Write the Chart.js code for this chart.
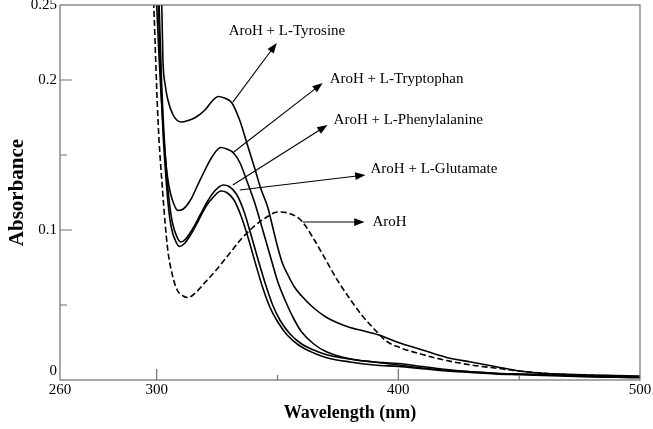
<!DOCTYPE html>
<html>
<head>
<meta charset="utf-8">
<script src="https://cdn.jsdelivr.net/npm/chart.js@4/dist/chart.umd.min.js"></script>
<style>
  html, body { margin: 0; padding: 0; background: #fff; }
  #wrap { width: 653px; height: 429px; }
</style>
</head>
<body>
<div id="wrap"><canvas id="absChart"></canvas></div>
<script>
// tick values and labels
var xTickValues = [260, 300, 350, 400, 450, 500]
var xTickLabels = ['260', '300', '', '400', '', '500']
var yTickValues = [0, 0.05, 0.1, 0.15, 0.2, 0.25]
var yTickLabels = [['0', ''], '', '0.1', '', '0.2', '0.25']

// AroH + L-Tyrosine
var tyrWl = [301.5, 302.1, 302.6, 303.5, 304.6, 306.7, 308.5, 310.4, 313, 316, 320, 323, 325.5, 328, 331, 334.4, 337.5, 340.6, 343, 346, 348, 350, 352, 354, 357, 360, 365, 370, 375, 380, 385, 392, 400, 410, 420, 430, 440, 450, 460, 470, 480, 490, 500]
var tyrAbs = [0.27, 0.25, 0.213, 0.197, 0.187, 0.177, 0.173, 0.172, 0.173, 0.175, 0.18, 0.186, 0.189, 0.188, 0.185, 0.173, 0.157, 0.141, 0.128, 0.115, 0.102, 0.089, 0.078, 0.071, 0.062, 0.056, 0.048, 0.042, 0.038, 0.035, 0.033, 0.030, 0.025, 0.020, 0.015, 0.012, 0.009, 0.006, 0.0045, 0.0038, 0.0033, 0.003, 0.0027]

// AroH + L-Tryptophan
var trpWl = [299.5, 300, 301, 302, 303, 304, 305, 306.5, 308.8, 311, 314, 317, 320, 323, 326.5, 329, 332, 334.4, 337.5, 340.6, 343, 345.5, 348, 350, 354, 357, 360, 365, 370, 380, 390, 400, 410, 420, 430, 440, 450, 460, 470, 480, 490, 500]
var trpAbs = [0.27, 0.25, 0.215, 0.185, 0.16, 0.142, 0.13, 0.12, 0.113, 0.114, 0.12, 0.13, 0.14, 0.149, 0.155, 0.154, 0.151, 0.145, 0.132, 0.118, 0.105, 0.091, 0.077, 0.066, 0.05, 0.04, 0.032, 0.024, 0.019, 0.014, 0.012, 0.010, 0.008, 0.0065, 0.0055, 0.0045, 0.004, 0.0035, 0.003, 0.0025, 0.002, 0.0018]

// AroH + L-Phenylalanine
var pheWl = [300.5, 301, 302, 303, 304, 305, 306.5, 308.5, 310, 312, 315, 318, 321, 324, 327.5, 330, 333, 336, 339, 342, 345, 348, 351, 355, 360, 365, 370, 380, 390, 400, 410, 420, 430, 440, 450, 460, 470, 480, 490, 500]
var pheAbs = [0.27, 0.25, 0.2, 0.165, 0.14, 0.122, 0.105, 0.095, 0.092, 0.094, 0.101, 0.11, 0.119, 0.126, 0.13, 0.129, 0.124, 0.113, 0.097, 0.08, 0.064, 0.05, 0.04, 0.031, 0.024, 0.02, 0.017, 0.014, 0.012, 0.011, 0.009, 0.007, 0.0055, 0.0045, 0.004, 0.0035, 0.003, 0.0025, 0.002, 0.0018]

// AroH + L-Glutamate
var gluWl = [300, 300.7, 301.7, 302.7, 303.7, 304.7, 306, 308, 309.5, 311.5, 314.5, 317.5, 320.5, 323.5, 326.5, 329, 332, 335, 338, 341, 344, 347, 350, 354, 359, 365, 370, 380, 390, 400, 410, 420, 430, 440, 450, 460, 470, 480, 490, 500]
var gluAbs = [0.27, 0.25, 0.2, 0.163, 0.138, 0.118, 0.102, 0.092, 0.089, 0.091, 0.098, 0.107, 0.116, 0.122, 0.126, 0.125, 0.12, 0.109, 0.094, 0.077, 0.061, 0.048, 0.039, 0.03, 0.023, 0.018, 0.015, 0.012, 0.010, 0.009, 0.0075, 0.006, 0.005, 0.004, 0.0035, 0.003, 0.0025, 0.002, 0.0018, 0.0015]

// AroH alone (dashed)
var aroWl = [298.3, 298.8, 300.5, 302.5, 304.5, 306.5, 308.5, 311, 313, 316, 320, 325, 330, 335, 340, 345, 350, 355, 360, 365, 370, 375, 380, 385, 390, 395, 400, 410, 420, 430, 440, 450, 460, 470, 480, 490, 500]
var aroAbs = [0.27, 0.25, 0.175, 0.125, 0.088, 0.07, 0.06, 0.056, 0.055, 0.058, 0.065, 0.074, 0.084, 0.094, 0.102, 0.108, 0.112, 0.111, 0.106, 0.094, 0.08, 0.066, 0.054, 0.043, 0.034, 0.026, 0.022, 0.017, 0.013, 0.010, 0.008, 0.006, 0.0045, 0.0035, 0.003, 0.0025, 0.002]

// labels with arrows (data units)
var noteText = ['AroH + L-Tyrosine', 'AroH + L-Tryptophan', 'AroH + L-Phenylalanine', 'AroH + L-Glutamate', 'AroH']
var noteFrom = [[331.5, 0.1853], [331.9, 0.152], [331.5, 0.130], [334.4, 0.1267], [360.4, 0.1053]]
var noteTo = [[349.7, 0.2247], [368.7, 0.198], [370.7, 0.170], [386.4, 0.1367], [386, 0.1053]]
var noteAt = [[329.8, 0.2327], [371.6, 0.2007], [373.2, 0.1733], [388.5, 0.1407], [389.3, 0.1053]]

function toPoints(xs, ys) {
    return xs.map(function (x, i) { return { x: x, y: ys[i] } })
}

function lineSet(label, xs, ys, dash) {
    return {
        label: label,
        data: toPoints(xs, ys),
        borderColor: '#000',
        borderWidth: 1.6,
        borderDash: dash || [],
        pointRadius: 0,
        cubicInterpolationMode: 'monotone',
        fill: false
    }
}

var frameAndTicks = {
    id: 'frameAndTicks',
    afterDraw: function (chart) {
        var ctx = chart.ctx
        var area = chart.chartArea
        var xs = chart.scales.x
        var ys = chart.scales.y
        ctx.save()
        ctx.strokeStyle = '#6e6e6e'
        ctx.lineWidth = 1.2
        ctx.strokeRect(area.left, area.top, area.right - area.left, area.bottom - area.top)
        ctx.beginPath()
        xTickValues.forEach(function (v, i) {
            if (v === 260 || v === 500) return
            var px = xs.getPixelForValue(v)
            var len = xTickLabels[i] ? 11 : 5
            ctx.moveTo(px, area.bottom)
            ctx.lineTo(px, area.bottom - len)
        })
        yTickValues.forEach(function (v, i) {
            if (v === 0 || v === 0.25) return
            var py = ys.getPixelForValue(v)
            var len = yTickLabels[i] ? 12 : 7
            ctx.moveTo(area.left, py)
            ctx.lineTo(area.left + len, py)
        })
        ctx.stroke()

        // arrows and their labels
        ctx.strokeStyle = '#000'
        ctx.fillStyle = '#000'
        ctx.lineWidth = 1.1
        ctx.font = '15px "Liberation Serif", "Times New Roman", serif'
        ctx.textBaseline = 'middle'
        ctx.textAlign = 'left'
        noteText.forEach(function (t, i) {
            var x1 = xs.getPixelForValue(noteFrom[i][0])
            var y1 = ys.getPixelForValue(noteFrom[i][1])
            var x2 = xs.getPixelForValue(noteTo[i][0])
            var y2 = ys.getPixelForValue(noteTo[i][1])
            var ang = Math.atan2(y2 - y1, x2 - x1)
            var head = 11
            var wide = 0.36
            ctx.beginPath()
            ctx.moveTo(x1, y1)
            ctx.lineTo(x2 - Math.cos(ang) * head * 0.8, y2 - Math.sin(ang) * head * 0.8)
            ctx.stroke()
            ctx.beginPath()
            ctx.moveTo(x2, y2)
            ctx.lineTo(x2 - head * Math.cos(ang - wide), y2 - head * Math.sin(ang - wide))
            ctx.lineTo(x2 - head * Math.cos(ang + wide), y2 - head * Math.sin(ang + wide))
            ctx.closePath()
            ctx.fill()
            ctx.fillText(t, xs.getPixelForValue(noteAt[i][0]), ys.getPixelForValue(noteAt[i][1]))
        })
        ctx.restore()
    }
}

var serif = '"Liberation Serif", "Times New Roman", serif'

var chartCtx = new Chart(document.getElementById('absChart'), {
    type: 'line',
    data: {
        datasets: [
            lineSet('AroH + L-Tyrosine', tyrWl, tyrAbs),
            lineSet('AroH + L-Tryptophan', trpWl, trpAbs),
            lineSet('AroH + L-Phenylalanine', pheWl, pheAbs),
            lineSet('AroH + L-Glutamate', gluWl, gluAbs),
            lineSet('AroH', aroWl, aroAbs, [6, 3])
        ]
    },
    options: {
        responsive: true,
        maintainAspectRatio: false,
        animation: false,
        layout: { padding: { top: 5, right: 13, left: 0, bottom: 0 } },
        plugins: {
            legend: { display: false },
            tooltip: { enabled: false }
        },
        scales: {
            x: {
                type: 'linear',
                min: 260,
                max: 500,
                afterBuildTicks: function (s) {
                    s.ticks = xTickValues.map(function (v) { return { value: v } })
                },
                afterFit: function (s) {
                    s.height = 49
                    s.paddingLeft = 0
                    s.paddingRight = 0
                },
                grid: { display: false, drawTicks: false },
                border: { display: false },
                ticks: {
                    color: '#000',
                    padding: 1,
                    maxRotation: 0,
                    autoSkip: false,
                    font: { family: serif, size: 15 },
                    callback: function (v, i) { return xTickLabels[i] }
                },
                title: {
                    display: true,
                    text: 'Wavelength (nm)',
                    color: '#000',
                    padding: { top: 0, bottom: 5 },
                    font: { family: serif, size: 18, weight: 'bold' }
                }
            },
            y: {
                min: 0,
                max: 0.25,
                afterBuildTicks: function (s) {
                    s.ticks = yTickValues.map(function (v) { return { value: v } })
                },
                afterFit: function (s) {
                    s.width = 60
                    s.paddingTop = 0
                    s.paddingBottom = 0
                },
                grid: { display: false, drawTicks: false },
                border: { display: false },
                ticks: {
                    color: '#000',
                    padding: 3,
                    autoSkip: false,
                    font: { family: serif, size: 15 },
                    callback: function (v, i) { return yTickLabels[i] }
                },
                title: {
                    display: true,
                    text: 'Absorbance',
                    color: '#000',
                    padding: { top: 5, bottom: 0 },
                    font: { family: serif, size: 21, weight: 'bold' }
                }
            }
        }
    },
    plugins: [frameAndTicks]
})
</script>
</body>
</html>
